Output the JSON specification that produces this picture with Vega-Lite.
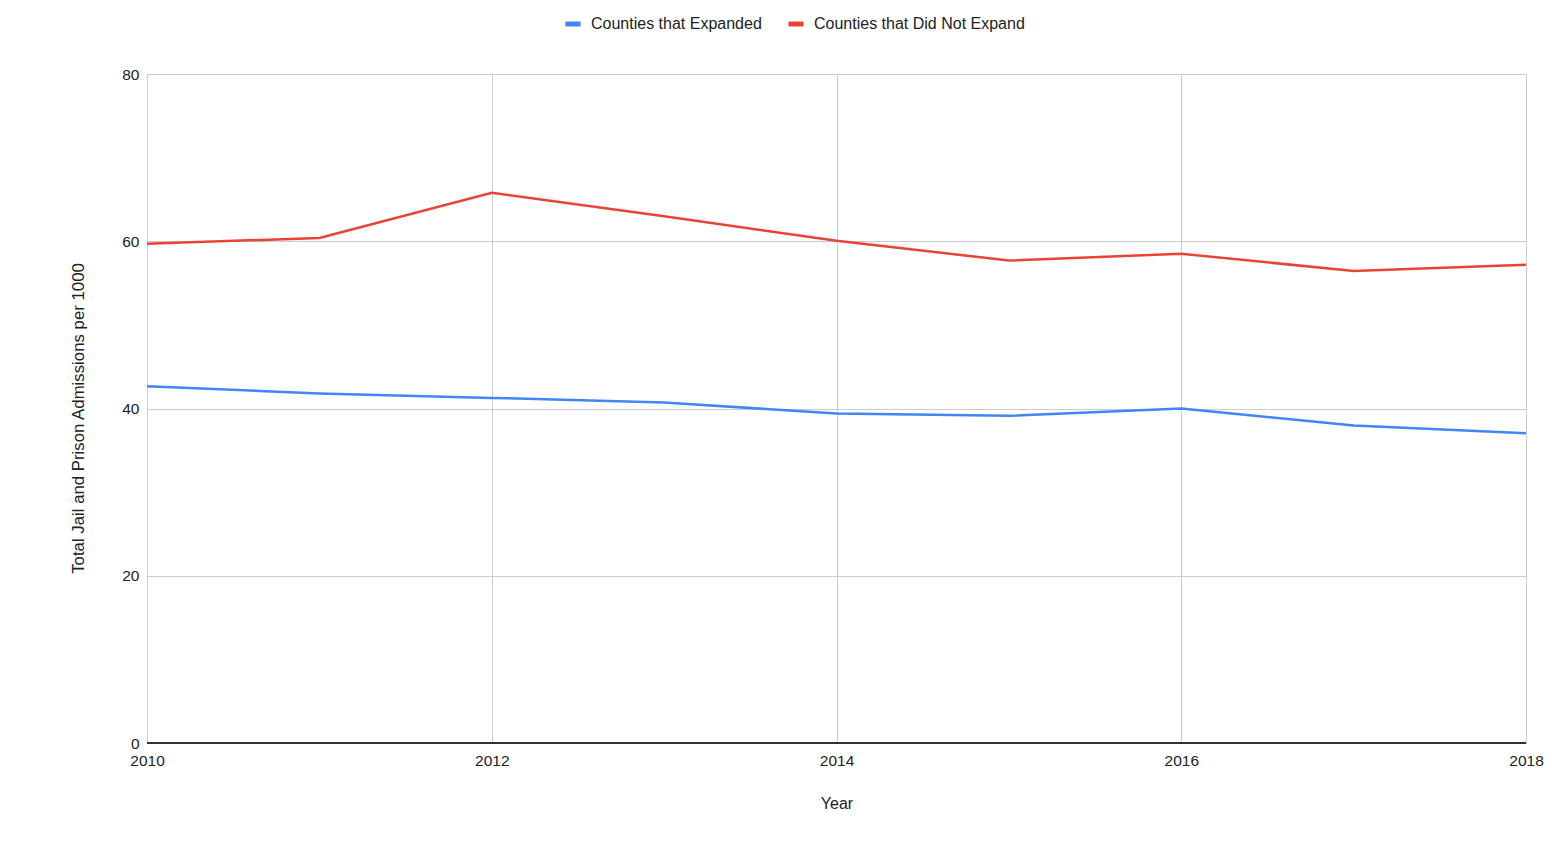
{
  "$schema": "https://vega.github.io/schema/vega-lite/v6.json",
  "width": 1379,
  "height": 669,
  "autosize": {"type": "none"},
  "padding": {"left": 147, "top": 74, "right": 31, "bottom": 101},
  "background": "white",
  "config": {
    "font": "Liberation Sans",
    "view": {"stroke": null},
    "axis": {
      "labelFont": "Liberation Sans",
      "titleFont": "Liberation Sans",
      "labelFontSize": 15.5,
      "titleFontSize": 16,
      "labelColor": "#222222",
      "titleColor": "#222222",
      "titleFontWeight": "normal",
      "gridColor": "#cccccc",
      "gridWidth": 1,
      "ticks": false
    }
  },
  "data": {
    "values": [
      {"year": 2010, "series": "Counties that Expanded", "rate": 42.65},
      {"year": 2011, "series": "Counties that Expanded", "rate": 41.8},
      {"year": 2012, "series": "Counties that Expanded", "rate": 41.27},
      {"year": 2013, "series": "Counties that Expanded", "rate": 40.72},
      {"year": 2014, "series": "Counties that Expanded", "rate": 39.4},
      {"year": 2015, "series": "Counties that Expanded", "rate": 39.13},
      {"year": 2016, "series": "Counties that Expanded", "rate": 40.0},
      {"year": 2017, "series": "Counties that Expanded", "rate": 37.96},
      {"year": 2018, "series": "Counties that Expanded", "rate": 37.05},
      {"year": 2010, "series": "Counties that Did Not Expand", "rate": 59.69},
      {"year": 2011, "series": "Counties that Did Not Expand", "rate": 60.4},
      {"year": 2012, "series": "Counties that Did Not Expand", "rate": 65.8},
      {"year": 2013, "series": "Counties that Did Not Expand", "rate": 63.0},
      {"year": 2014, "series": "Counties that Did Not Expand", "rate": 60.05},
      {"year": 2015, "series": "Counties that Did Not Expand", "rate": 57.7},
      {"year": 2016, "series": "Counties that Did Not Expand", "rate": 58.5},
      {"year": 2017, "series": "Counties that Did Not Expand", "rate": 56.45},
      {"year": 2018, "series": "Counties that Did Not Expand", "rate": 57.2}
    ]
  },
  "layer": [
    {
      "mark": {"type": "line", "strokeWidth": 2.5, "interpolate": "linear"},
      "encoding": {
        "x": {
          "field": "year",
          "type": "quantitative",
          "scale": {"domain": [2010, 2018], "nice": false, "zero": false},
          "axis": {
            "values": [2010, 2012, 2014, 2016, 2018],
            "format": "d",
            "title": "Year",
            "grid": true,
            "domain": false,
            "labelPadding": 10,
            "titlePadding": 27,
            "labelFlush": false
          }
        },
        "y": {
          "field": "rate",
          "type": "quantitative",
          "scale": {"domain": [0, 80], "nice": false},
          "axis": {
            "values": [0, 20, 40, 60, 80],
            "title": "Total Jail and Prison Admissions per 1000",
            "titleFontSize": 16.8,
            "titleX": -60,
            "titleY": 344,
            "titleAnchor": null,
            "grid": true,
            "domain": false,
            "labelPadding": 8
          }
        },
        "color": {
          "field": "series",
          "type": "nominal",
          "scale": {
            "domain": ["Counties that Expanded", "Counties that Did Not Expand"],
            "range": ["#4285f4", "#ea4335"]
          },
          "legend": {
            "title": null,
            "orient": "none",
            "direction": "horizontal",
            "legendX": 416,
            "legendY": -60,
            "symbolType": "stroke",
            "symbolStrokeWidth": 5,
            "symbolSize": 225,
            "labelFont": "Liberation Sans",
            "labelFontSize": 16,
            "labelColor": "#222222",
            "labelLimit": 0,
            "columnPadding": 16,
            "labelOffset": 8
          }
        }
      }
    },
    {
      "mark": {"type": "rule", "color": "#333333", "strokeWidth": 1.2},
      "encoding": {"y": {"datum": 0}}
    }
  ]
}
